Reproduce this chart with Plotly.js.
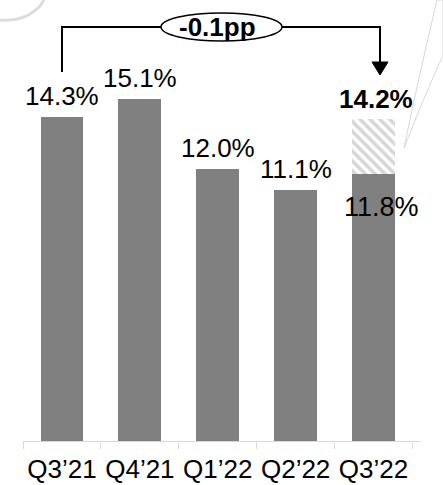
<!DOCTYPE html>
<html>
<head>
<meta charset="utf-8">
<script src="https://cdn.plot.ly/plotly-3.0.1.min.js"></script>
<style>html,body{margin:0;padding:0;background:#fff;}#chart{width:443px;height:485px;}</style>
</head>
<body>
<div id="chart"></div>
<script>
const categories = ["Q3\u201921", "Q4\u201921", "Q1\u201922", "Q2\u201922", "Q3\u201922"];
const values = [14.3, 15.1, 12.0, 11.1, 11.8];
const totalLast = 14.2;
const deltaLabel = "-0.1pp";

const W = 443, H = 485, M = {l: 23, r: 22, t: 0, b: 44};
const px = x => (x - M.l) / (W - M.l - M.r);
const py = y => (H - M.b - y) / (H - M.t - M.b);

const n = categories.length;
const extra = categories.map((c, i) => i === n - 1 ? +(totalLast - values[i]).toFixed(2) : null);

const fontFam = "Liberation Sans, Arial, sans-serif";

const traces = [
  {type: "bar", x: categories, y: values, marker: {color: "#808080"}, hoverinfo: "none"},
  {type: "bar", x: categories, y: extra, marker: {color: "#ffffff", line: {width: 0},
    pattern: {shape: "\\", fgcolor: "#d6d6d6", bgcolor: "#ffffff", size: 7, solidity: 0.5, fillmode: "replace"}},
   hoverinfo: "none"}
];

const annotations = [];
values.forEach((v, i) => {
  if (i < n - 1) {
    annotations.push({x: categories[i], y: v, xref: "x", yref: "y", text: v.toFixed(1) + "%",
      showarrow: false, yanchor: "middle", yshift: 21, font: {size: 26, color: "#000", family: fontFam}});
  } else {
    annotations.push({x: categories[i], y: v, xref: "x", yref: "y", text: v.toFixed(1) + "%",
      showarrow: false, yanchor: "middle", yshift: -33, xshift: 8, font: {size: 27, color: "#000", family: fontFam}});
    annotations.push({x: categories[i], y: totalLast, xref: "x", yref: "y", text: "<b>" + totalLast.toFixed(1) + "%</b>",
      showarrow: false, yanchor: "middle", yshift: 20, xshift: 2, font: {size: 26, color: "#000", family: fontFam}});
  }
});
annotations.push({x: 2, y: py(27), xref: "x", yref: "paper", text: "<b>" + deltaLabel + "</b>", showarrow: false,
  yanchor: "middle", font: {size: 26, color: "#000", family: fontFam}});

const shapes = [
  {type: "path", xref: "paper", yref: "paper",
   path: `M ${px(62)},${py(72)} L ${px(62)},${py(27)} L ${px(380)},${py(27)} L ${px(380)},${py(63)}`,
   line: {color: "#000", width: 2}},
  {type: "path", xref: "paper", yref: "paper",
   path: `M ${px(372)},${py(62)} L ${px(388)},${py(62)} L ${px(380)},${py(75)} Z`,
   fillcolor: "#000", line: {color: "#000", width: 1}},
  {type: "circle", xref: "paper", yref: "paper", x0: px(161), x1: px(282), y0: py(41), y1: py(13),
   fillcolor: "#fff", line: {color: "#000", width: 1.5}},
  // page curl decoration right
  {type: "path", xref: "paper", yref: "paper",
   path: `M ${px(437)},${py(0)} Q ${px(418)},${py(80)} ${px(404)},${py(148)} Q ${px(425)},${py(95)} ${px(443)},${py(55)} L ${px(443)},${py(0)} Z`,
   fillcolor: "#fff", line: {color: "#d8d8d8", width: 1}},
  // page curl decoration top-left
  {type: "path", xref: "paper", yref: "paper",
   path: `M ${px(0)},${py(20)} Q ${px(25)},${py(22)} ${px(40)},${py(6)} Q ${px(44)},${py(0)} ${px(44)},${py(0)}`,
   line: {color: "#dcdcdc", width: 3}}
];

const layout = {
  width: W, height: H, margin: M, paper_bgcolor: "#fff", plot_bgcolor: "#fff",
  barmode: "stack", bargap: 0.45, showlegend: false,
  xaxis: {type: "category", tickson: "boundaries", ticks: "outside", ticklen: 7, tickcolor: "#d9d9d9",
    showline: true, linecolor: "#d9d9d9", linewidth: 1, showgrid: false, zeroline: false, tickangle: 0,
    ticklabelstandoff: 5, automargin: false, tickfont: {size: 26, color: "#000", family: fontFam}, fixedrange: true},
  yaxis: {range: [0, (H - M.t - M.b) / 22.65], visible: false, showgrid: false, zeroline: false, fixedrange: true},
  annotations, shapes
};

Plotly.newPlot("chart", traces, layout, {displayModeBar: false, staticPlot: true});
</script>
</body>
</html>
